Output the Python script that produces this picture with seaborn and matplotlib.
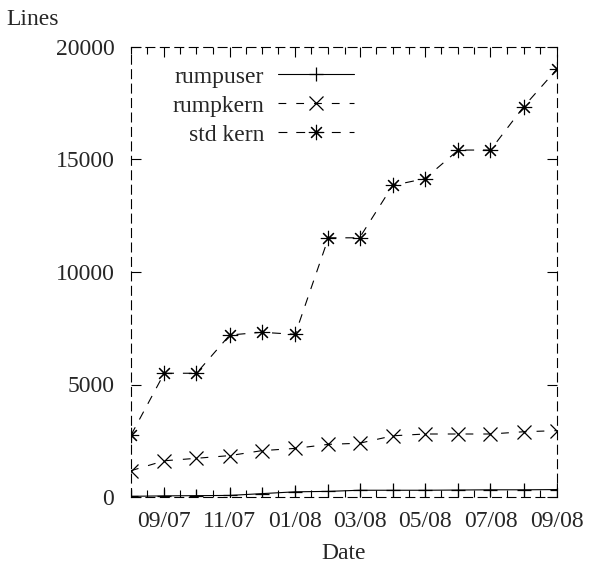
import pandas as pd
import matplotlib
matplotlib.use("Agg")
import matplotlib.pyplot as plt
import matplotlib.dates as mdates
import seaborn as sns

months = ["2007-08", "2007-09", "2007-10", "2007-11", "2007-12", "2008-01", "2008-02",
          "2008-03", "2008-04", "2008-05", "2008-06", "2008-07", "2008-08", "2008-09"]
rumpuser = [30, 50, 60, 70, 150, 230, 250, 300, 300, 300, 310, 320, 320, 330]
rumpkern = [1170, 1610, 1720, 1840, 2060, 2160, 2340, 2390, 2720, 2800, 2800, 2800, 2900, 2950]
std_kern = [2750, 5500, 5500, 7200, 7320, 7230, 11520, 11520, 13850, 14150, 15420, 15420, 17350, 19020]

df = pd.DataFrame({
    "date": pd.to_datetime(months),
    "rumpuser": rumpuser,
    "rumpkern": rumpkern,
    "std kern": std_kern,
})

sns.set_style("ticks")
plt.rcParams["font.family"] = ["Liberation Serif", "DejaVu Serif"]
fs = 17
plt.rcParams["font.size"] = fs

fig = plt.figure(figsize=(5.96, 5.88), dpi=100)
ax = fig.add_axes([131 / 596, 91 / 588, 426 / 596, 450 / 588])

sns.lineplot(data=df, x="date", y="rumpuser", ax=ax, color="black", linewidth=0.8,
             marker="+", markersize=10, markeredgewidth=0.9, markeredgecolor="black",
             label="rumpuser")
sns.lineplot(data=df, x="date", y="rumpkern", ax=ax, color="black", linewidth=0.8,
             linestyle=(0, (7, 9)), marker="x", markersize=10, markeredgewidth=0.9,
             markeredgecolor="black", label="rumpkern")
sns.lineplot(data=df, x="date", y="std kern", ax=ax, color="black", linewidth=0.8,
             linestyle=(0, (8, 8)), marker=(8, 2, 0), markersize=11, markeredgewidth=0.8,
             markeredgecolor="black", label="std kern")

ax.set_xlim(df["date"].iloc[0], df["date"].iloc[-1])
ax.set_ylim(0, 20000)
ax.set_yticks([0, 5000, 10000, 15000, 20000])

ax.xaxis.set_major_locator(mdates.MonthLocator(bymonth=[1, 3, 5, 7, 9, 11]))
ax.xaxis.set_major_formatter(mdates.DateFormatter("%m/%y"))
ax.xaxis.set_minor_locator(mdates.MonthLocator(bymonthday=[1, 16]))

ax.tick_params(axis="both", which="major", direction="in", top=True, right=True,
               length=7, width=0.8, color="black")
ax.tick_params(axis="x", which="minor", direction="in", top=True, bottom=True,
               length=5, width=0.8, color="black")
ax.tick_params(axis="y", pad=12, labelsize=fs)
ax.tick_params(axis="x", pad=10, labelsize=fs)

for spine in ax.spines.values():
    spine.set_linestyle((0, (8, 5)))
    spine.set_linewidth(0.8)
    spine.set_color("black")
    spine.set_visible(True)

ax.set_xlabel("Date", labelpad=8)
ax.set_ylabel("")
fig.text(6 / 596, 1 - 25 / 588, "Lines", fontsize=fs, ha="left", va="baseline")

ax.legend(loc="upper right", bbox_to_anchor=(354 / 596, 1 - 66 / 588),
          bbox_transform=fig.transFigure, frameon=False, markerfirst=False,
          handlelength=3.2, handletextpad=0.6, labelspacing=0.32,
          borderpad=0, borderaxespad=0, fontsize=fs)

fig.savefig("out.png", dpi=100)
